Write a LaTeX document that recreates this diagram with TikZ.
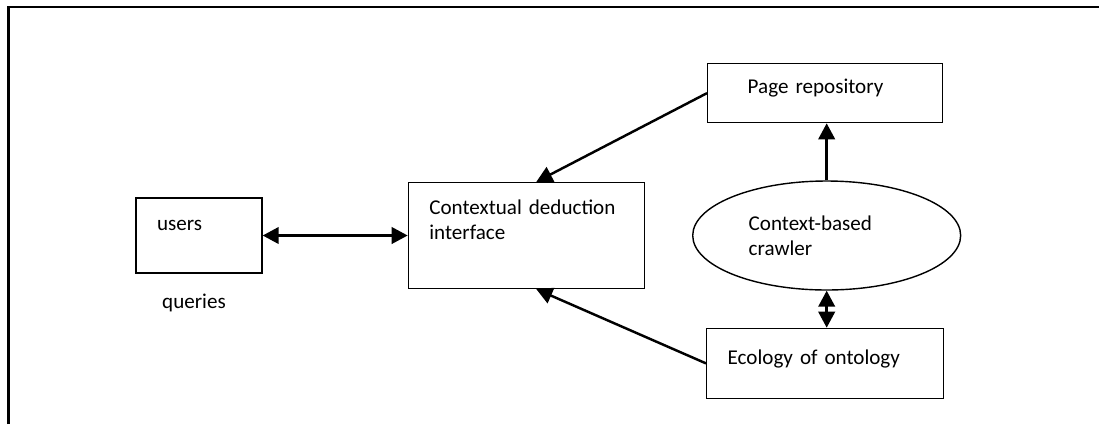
\documentclass[tikz,border=0pt]{standalone}
\usepackage{fontspec}
\setmainfont{Carlito}
\usetikzlibrary{arrows.meta, positioning, shapes.geometric}

\begin{document}
\begin{tikzpicture}[
  x=0.02cm, y=-0.02cm,
  font=\fontsize{12pt}{14.2pt}\selectfont,
  box/.style = {draw, line width=0.8pt, align=left, inner xsep=0.42cm, inner ysep=0.1cm, minimum size=0pt},
  crawlshape/.style = {draw, ellipse, line width=0.8pt, minimum width=5.36cm, minimum height=2.18cm, inner sep=0pt, align=left, text width=3.12cm},
  line/.style = {line width=1.4pt, -{Triangle[length=3.2mm, width=3.3mm]}},
  dline/.style = {line width=1.4pt, {Triangle[length=3.2mm, width=3.3mm]}-{Triangle[length=3.2mm, width=3.3mm]}},
  frame/.style = {line width=1.5pt}
]
  \useasboundingbox (0,0) rectangle (1099,424);

  % Frame
  \draw[frame] (8.5,424) -- (8.5,7) -- (1099,7);

  % Nodes
  \node[box, text width=1.68cm, text height=0.54cm, text depth=0.76cm] (users) at (199,235.5) {users};
  \node[inner sep=0pt, below=0.4cm of users, xshift=-0.1cm] (queries) {queries};
  \node[box, text width=3.88cm, text height=0.54cm, text depth=1.38cm, right=2.9cm of users] (interface) {Contextual deduction\\interface};
  \node[crawlshape, right=0.94cm of interface] (crawler) {Context-based\\crawler};
  \node[box, inner xsep=0.8cm, text width=3.1cm, text height=0.5cm, text depth=0.48cm, above=1.14cm of crawler, xshift=-0.03cm] (page) {Page repository};
  \node[box, text width=3.9cm, text height=0.62cm, text depth=0.58cm, below=0.74cm of crawler, xshift=-0.03cm] (ecology) {Ecology of ontology};

  % Connections
  \draw[dline] (users.east) -- (interface.west);
  \draw[line] (page.west) -- ([xshift=0.2cm]interface.north);
  \draw[line] (ecology.west) -- ([xshift=0.2cm]interface.south);
  \draw[line] (crawler.north) -- (crawler.north |- page.south);
  \draw[dline] (crawler.south) -- (crawler.south |- ecology.north);

\end{tikzpicture}
\end{document}
